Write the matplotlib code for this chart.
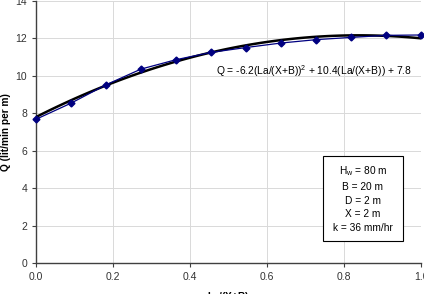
import numpy as np
import matplotlib
matplotlib.use('Agg')
import matplotlib.pyplot as plt
from matplotlib.patches import Rectangle

plt.rcParams['font.family'] = ['Liberation Sans', 'DejaVu Sans']
plt.rcParams['mathtext.fontset'] = 'custom'
plt.rcParams['mathtext.rm'] = 'Liberation Sans'

# measured points
ratio = [0.0, 0.0909, 0.1818, 0.2727, 0.3636, 0.4545, 0.5455, 0.6364, 0.7273, 0.8182, 0.9091, 1.0]
flow = [7.68, 8.54, 9.52, 10.36, 10.86, 11.25, 11.51, 11.75, 11.93, 12.05, 12.16, 12.18]

# trendline coefficients (a*x^2 + b*x + c)
coef = [-6.2, 10.4, 7.8]

fig = plt.figure(figsize=(4.24, 2.94), dpi=100)
ax = fig.add_axes([0.085, 0.105, 0.908, 0.892])

xs = np.linspace(0, 1, 100)
ax.plot(xs, np.polyval(coef, xs), color='black', lw=1.8, zorder=3)
ax.plot(ratio, flow, color='#000080', lw=0.9, marker='D', ms=3.5, zorder=4, clip_on=False)

ax.set_xlim(0, 1.0)
ax.set_ylim(0, 14)
ax.set_xticks(np.arange(0, 1.01, 0.2))
ax.set_xticklabels(['0.0', '0.2', '0.4', '0.6', '0.8', '1.0'])
ax.set_yticks(range(0, 15, 2))
ax.grid(True, color='#d9d9d9', lw=0.7)
ax.set_axisbelow(True)
for s in ['top', 'right']:
    ax.spines[s].set_visible(False)
for s in ['left', 'bottom']:
    ax.spines[s].set_color('#404040')
    ax.spines[s].set_linewidth(1.0)
ax.tick_params(labelsize=7.5, colors='#404040', length=3, width=0.8, labelcolor='#333333')

ax.set_ylabel('Q (lit/min per m)', fontsize=7.3, fontweight='bold', labelpad=3)
ax.set_xlabel(r'L$_\mathbf{a}$/(X+B)', fontsize=7.3, fontweight='bold', labelpad=6)

ax.text(0.723, 10.27, r'Q = -6.2(La/(X+B))$^\mathrm{2}$ + 10.4(La/(X+B)) + 7.8', fontsize=7.4,
        ha='center', va='center')

# parameter box
ax.add_patch(Rectangle((0.745, 0.084), 0.208, 0.324, transform=ax.transAxes,
                       fc='white', ec='black', lw=0.8, zorder=5))
ax.text(0.849, 0.246, r'H$_\mathrm{w}$ = 80 m' + '\nB = 20 m\nD = 2 m\nX = 2 m\nk = 36 mm/hr',
        transform=ax.transAxes, fontsize=7.3, ha='center', va='center',
        linespacing=1.45, zorder=6)

fig.savefig('out.png', dpi=100)
